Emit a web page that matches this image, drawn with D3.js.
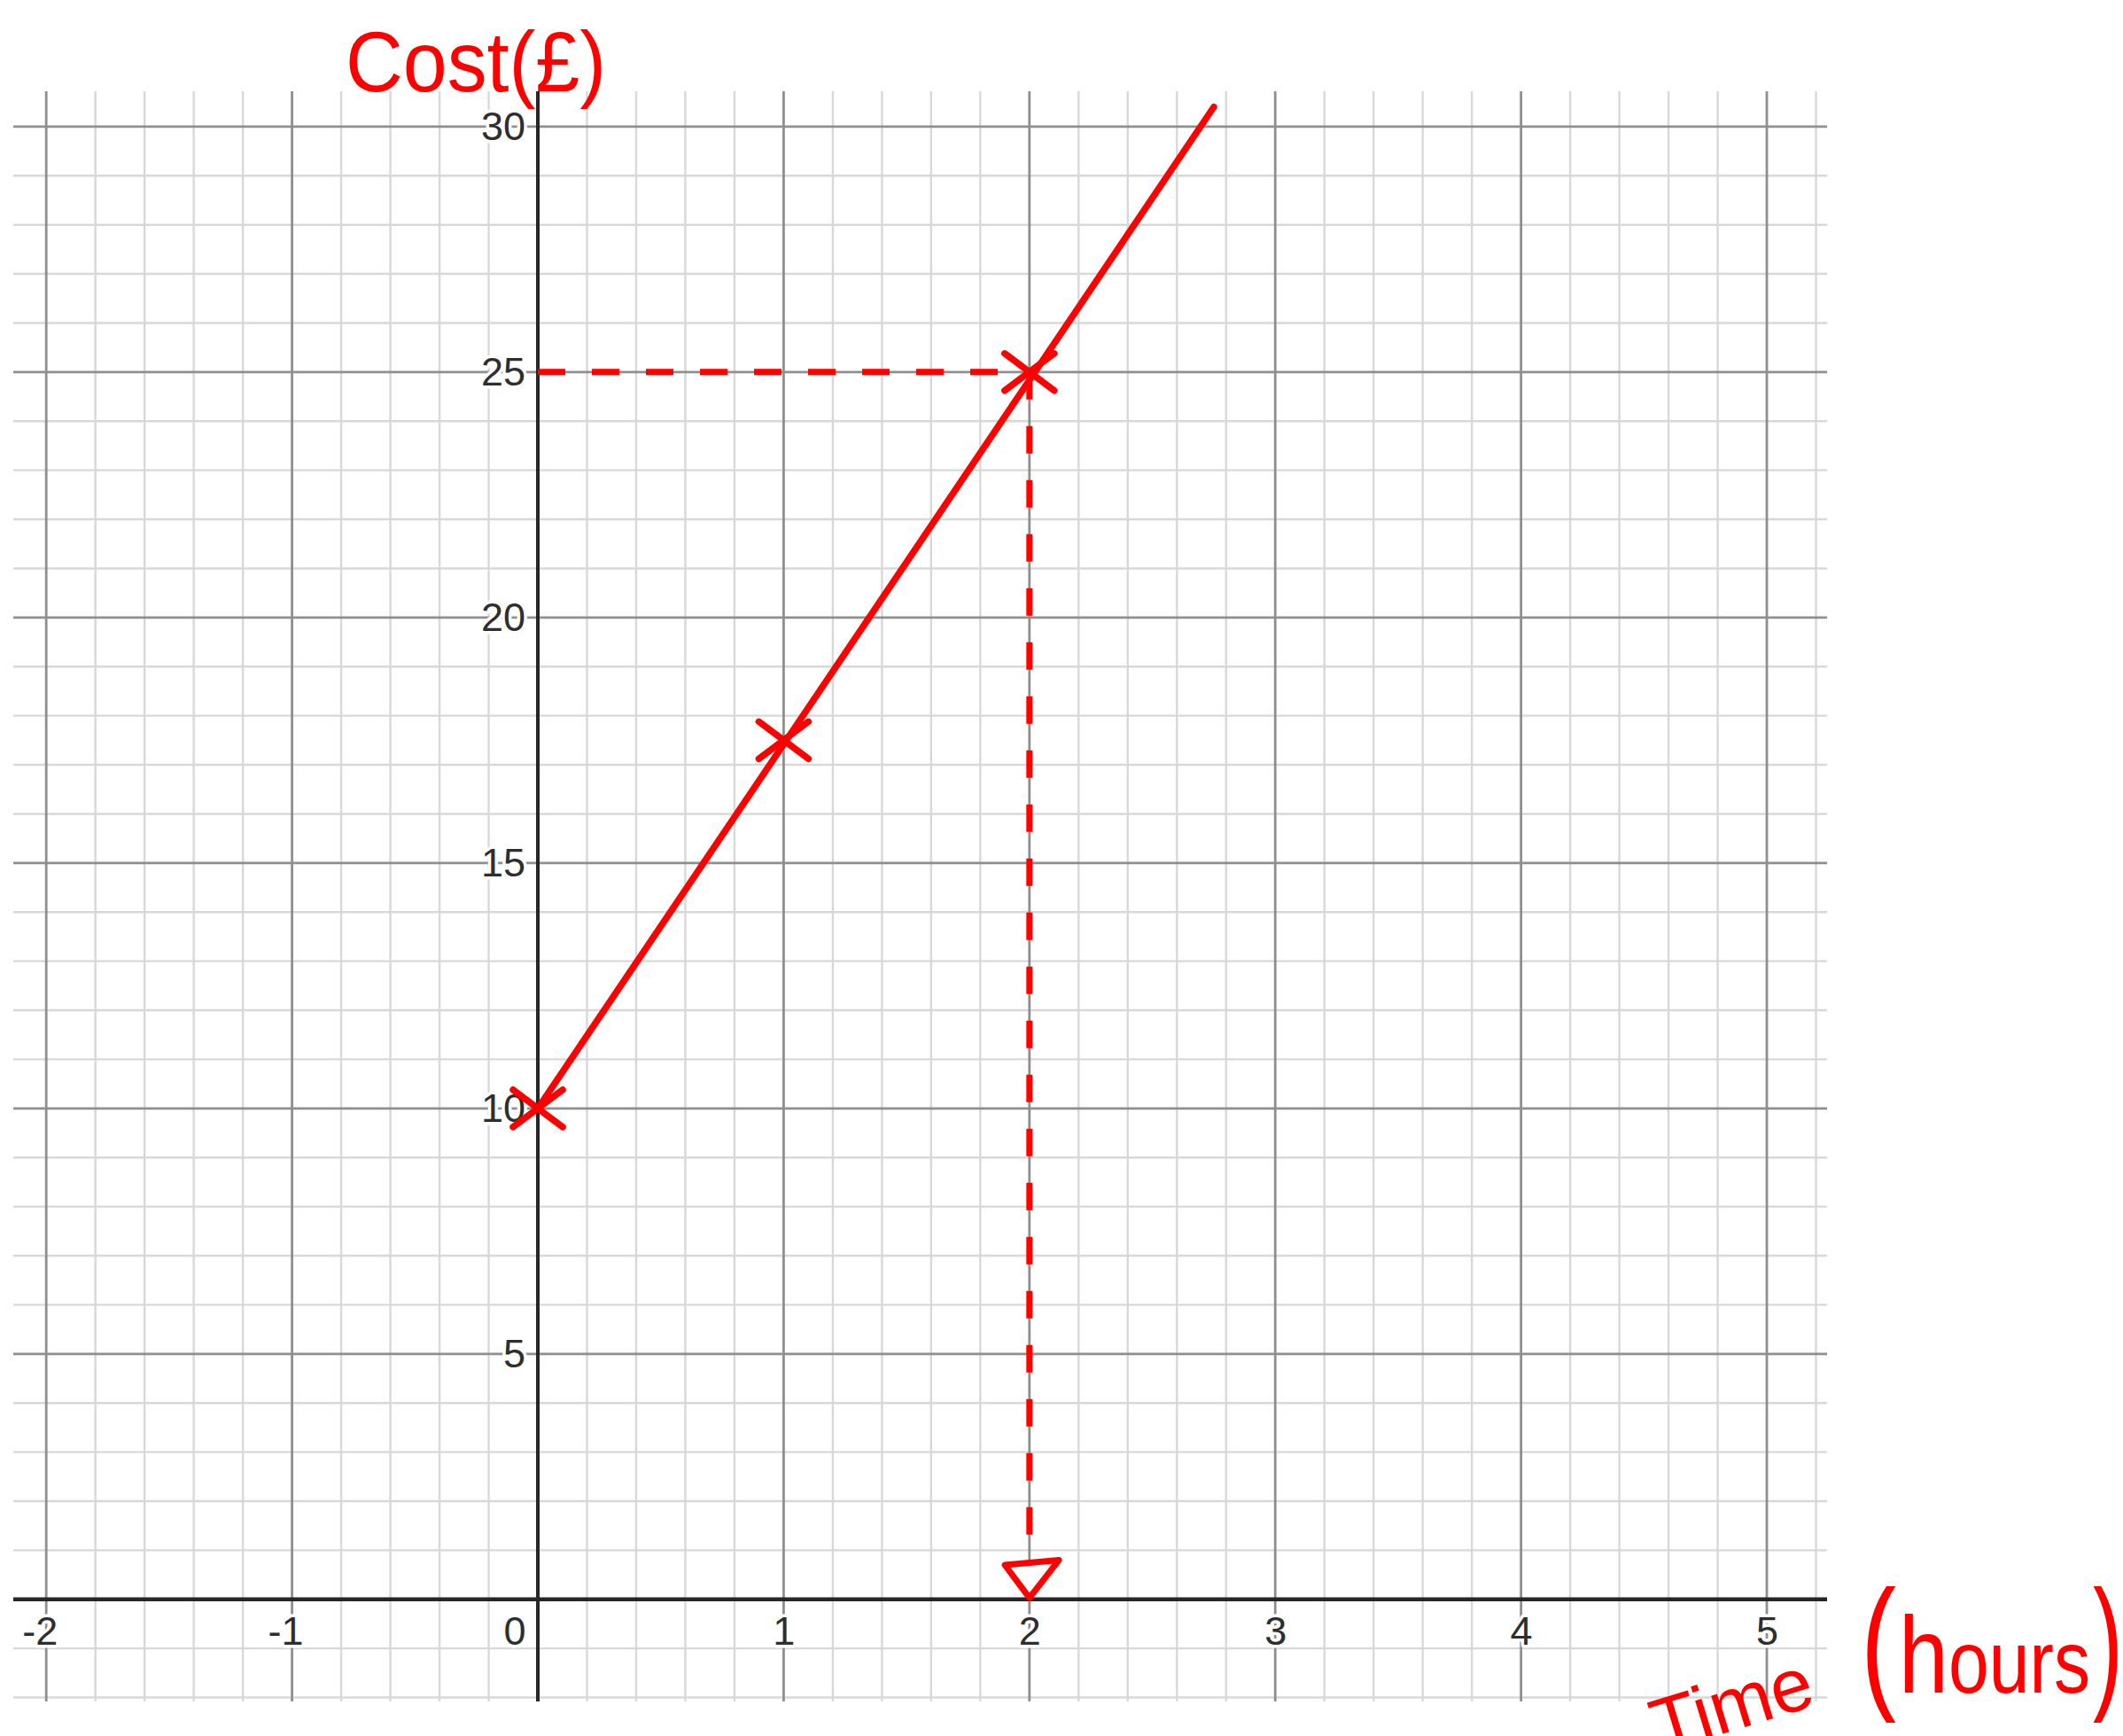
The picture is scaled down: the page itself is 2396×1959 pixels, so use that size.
<!DOCTYPE html>
<html>
<head>
<meta charset="utf-8">
<script src="https://cdn.jsdelivr.net/npm/d3@7"></script>
<style>
  html, body { margin: 0; padding: 0; background: #fff; }
  svg { display: block; }
</style>
</head>
<body>
<svg id="chart" width="2396" height="1959"></svg>
<script>
// Hire cost: a fixed £10 charge plus roughly £7.50 per hour
const hours = [0, 1, 2];
const cost = [10, 17.5, 25];

// Straight-line graph ruled through the plotted points
const lineHours = [0, 2.75];
const lineCost = [10, 30.4];

// Reading off: £25 across to the line, then down to the time axis
const readAcrossHours = [0, 2];
const readAcrossCost = [25, 25];
const readDownHours = [2, 2];
const readDownCost = [25, 0.75];

// Arrow head where the reading meets the time axis
const arrowHours = [1.9, 2.12, 2.0];
const arrowCost = [0.7, 0.8, 0.03];

// Axis ticks
const xTickValues = [-2, -1, 0, 1, 2, 3, 4, 5];
const yTickValues = [5, 10, 15, 20, 25, 30];

// Axis titles
const yTitle = "Cost(£)";
const xTitleWord = "Time";
const xTitleOpen = "(";
const xTitleUnit = ["h", "ours"];
const xTitleClose = ")";

const RED = "#ff0000";
const FONT = "'Liberation Sans', Arial, Helvetica, sans-serif";

const svg = d3.select("#chart");

const x = d3.scaleLinear().domain([-2.134, 5.245]).range([15, 2062]);
const y = d3.scaleLinear().domain([-2.08, 30.72]).range([1920, 103]);

const [xMin, xMax] = x.domain();
const [yMin, yMax] = y.domain();

// ---- grid ----
const xGrid = d3.range(-10, 27).map(i => ({ v: i / 5, major: i % 5 === 0 }));
const yGrid = d3.range(-2, 31).map(v => ({ v, major: v % 5 === 0 }));

const grid = svg.append("g");

function drawGrid(major) {
  const stroke = major ? "#8f8f8f" : "#d8d8d8";
  const width = major ? 2.8 : 2.4;
  grid.append("g").selectAll("line")
    .data(xGrid.filter(d => d.major === major))
    .join("line")
    .attr("x1", d => x(d.v)).attr("x2", d => x(d.v))
    .attr("y1", y(yMax)).attr("y2", y(yMin))
    .attr("stroke", stroke).attr("stroke-width", width);
  grid.append("g").selectAll("line")
    .data(yGrid.filter(d => d.major === major))
    .join("line")
    .attr("x1", x(xMin)).attr("x2", x(xMax))
    .attr("y1", d => y(d.v)).attr("y2", d => y(d.v))
    .attr("stroke", stroke).attr("stroke-width", width);
}
drawGrid(false);
drawGrid(true);

// ---- axes ----
svg.append("line")
  .attr("x1", x(xMin)).attr("x2", x(xMax))
  .attr("y1", y(0)).attr("y2", y(0))
  .attr("stroke", "#262626").attr("stroke-width", 4.5);
svg.append("line")
  .attr("x1", x(0)).attr("x2", x(0))
  .attr("y1", y(yMax)).attr("y2", y(yMin))
  .attr("stroke", "#262626").attr("stroke-width", 4);

function styleLabels(g) {
  g.select(".domain").remove();
  g.attr("font-family", FONT).attr("font-size", 45);
  g.selectAll("text")
    .attr("fill", "#2e2e2e")
    .attr("stroke", "#fff")
    .attr("stroke-width", 7)
    .attr("stroke-linejoin", "round")
    .attr("paint-order", "stroke");
}

const yAxis = d3.axisLeft(y)
  .tickValues(yTickValues)
  .tickSize(0)
  .tickPadding(14)
  .tickFormat(d => String(d));
svg.append("g")
  .attr("transform", `translate(${x(0)},0)`)
  .call(yAxis)
  .call(styleLabels);

const xAxis = d3.axisBottom(x)
  .tickValues(xTickValues)
  .tickSize(0)
  .tickPadding(19)
  .tickFormat(d => String(d));
svg.append("g")
  .attr("transform", `translate(0,${y(0)})`)
  .call(xAxis)
  .call(styleLabels)
  .call(g => g.selectAll("text")
    .attr("text-anchor", "end")
    .attr("dx", d => d === 0 ? -14 : 12.5));

// ---- reading-off lines ----
const path = d3.line().x(d => x(d[0])).y(d => y(d[1]));

svg.append("path")
  .attr("d", path(d3.zip(readAcrossHours, readAcrossCost)))
  .attr("fill", "none").attr("stroke", RED)
  .attr("stroke-width", 7).attr("stroke-dasharray", "31 30");
svg.append("path")
  .attr("d", path(d3.zip(readDownHours, readDownCost)))
  .attr("fill", "none").attr("stroke", RED)
  .attr("stroke-width", 7).attr("stroke-dasharray", "31 30");

svg.append("path")
  .attr("d", path(d3.zip(arrowHours, arrowCost)) + "Z")
  .attr("fill", "#fff").attr("stroke", RED)
  .attr("stroke-width", 7).attr("stroke-linejoin", "round");

// ---- cost line ----
svg.append("path")
  .attr("d", path(d3.zip(lineHours, lineCost)))
  .attr("fill", "none").attr("stroke", RED)
  .attr("stroke-width", 7.5).attr("stroke-linecap", "round");

// ---- plotted points as crosses ----
const pts = d3.zip(hours, cost);
const hw = 28, hh = 21;
svg.append("g").selectAll("path")
  .data(pts)
  .join("path")
  .attr("d", d => {
    const cx = x(d[0]), cy = y(d[1]);
    return `M${cx - hw},${cy - hh}L${cx + hw},${cy + hh}M${cx - hw},${cy + hh}L${cx + hw},${cy - hh}`;
  })
  .attr("fill", "none").attr("stroke", RED)
  .attr("stroke-width", 7.5).attr("stroke-linecap", "round");

// ---- axis titles ----
svg.append("text")
  .attr("x", 390).attr("y", 103)
  .attr("font-family", FONT).attr("font-size", 96)
  .attr("fill", RED)
  .attr("textLength", 294).attr("lengthAdjust", "spacingAndGlyphs")
  .text(yTitle);

svg.append("text")
  .attr("transform", "translate(1874,1978) rotate(-17)")
  .attr("font-family", FONT).attr("font-size", 85)
  .attr("fill", RED)
  .text(xTitleWord);

svg.append("text")
  .attr("x", 2100).attr("y", 1910)
  .attr("font-family", FONT).attr("font-size", 165)
  .attr("fill", RED)
  .attr("textLength", 40).attr("lengthAdjust", "spacingAndGlyphs")
  .text(xTitleOpen);

const unit = svg.append("text")
  .attr("x", 2143).attr("y", 1910)
  .attr("font-family", FONT)
  .attr("fill", RED);
const unitSizes = [122, 100];
unit.selectAll("tspan")
  .data(xTitleUnit)
  .join("tspan")
  .attr("font-size", (d, i) => unitSizes[i])
  .attr("textLength", (d, i) => i === 0 ? 56 : 160)
  .attr("lengthAdjust", "spacingAndGlyphs")
  .text(d => d);

svg.append("text")
  .attr("x", 2362).attr("y", 1910)
  .attr("font-family", FONT).attr("font-size", 165)
  .attr("fill", RED)
  .attr("textLength", 34).attr("lengthAdjust", "spacingAndGlyphs")
  .text(xTitleClose);
</script>
</body>
</html>
